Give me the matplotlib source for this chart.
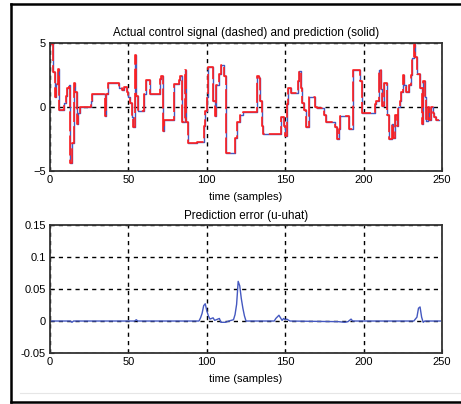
# Actual control signal vs. prediction, and prediction error

import matplotlib.pyplot as plt
from matplotlib.lines import Line2D

# control signal: sample where a new level starts, and the level
step_t = [0, 2, 3, 4, 5, 6, 9, 10, 11, 12, 13, 14, 15, 16, 17, 18, 19, 26, 27,
          35, 36, 37, 44, 46, 47, 49, 50, 51, 52, 53, 54, 55, 56, 60, 61, 64,
          70, 71, 72, 73, 79, 82, 83, 84, 86, 87, 88, 94, 98, 99, 100, 101,
          104, 105, 106, 108, 109, 111, 112, 118, 119, 121, 123, 132, 133,
          134, 135, 136, 147, 149, 150, 151, 152, 154, 158, 159, 160, 161,
          162, 163, 165, 169, 170, 175, 176, 182, 183, 184, 185, 191, 193,
          198, 199, 207, 208, 210, 211, 212, 213, 215, 216, 218, 219, 220,
          221, 222, 223, 224, 225, 226, 227, 229, 230, 231, 232, 233, 234,
          236, 237, 238, 239, 240, 241, 242, 243, 244, 245, 246, 248]
step_u = [4.9, 2.7, 0.8, 1.8, 3.0, -0.2, 0.3, 0.9, 1.5, 1.7, -4.4, -2.8, 1.9,
          1.2, -1.3, -0.5, 0.0, 0.5, 1.0, -0.7, 1.0, 1.9, 1.5, 1.3, 1.6, 1.2,
          0.8, 0.3, -0.8, -1.6, 4.1, 0.9, -0.3, 1.0, 2.1, 1.0, 2.2, 2.4, -1.9,
          -1.0, 1.8, 2.1, 2.4, -1.2, 2.9, -1.2, -2.8, -2.7, -1.5, -0.3, 0.8,
          3.1, 0.5, -0.7, 1.7, 2.6, 3.3, 2.4, -3.6, -2.4, -1.2, -0.6, -0.4,
          2.4, 2.3, 0.5, -1.5, -2.1, -0.8, -1.5, -2.3, 0.2, 1.5, 1.1, 2.0,
          2.8, 1.5, 0.3, -0.2, -1.6, 0.8, 0.0, -0.1, -0.6, -1.2, -1.6, -2.5,
          -1.7, -0.7, -1.7, 2.9, 2.0, -0.5, 0.2, 0.5, 2.9, 1.4, 0.1, 1.9,
          -0.6, -2.5, -1.3, -2.4, -0.6, -1.5, 0.0, 0.5, 1.2, 2.5, 1.7, 1.2,
          1.7, 2.5, 3.8, 5.0, 3.9, 2.6, 1.5, -1.3, 2.0, 0.8, -1.1, 0.0, -1.0,
          0.0, -0.5, -0.8, -1.0, -1.0]

# prediction error u - uhat
err_t = [0, 13, 14, 15, 54, 55, 56, 95, 96, 97, 98, 99, 100, 101, 102, 104,
         105, 108, 109, 112, 114, 117, 118, 119, 120, 121, 122, 123, 124,
         125, 143, 144, 146, 147, 148, 149, 150, 151, 153, 184, 188, 190,
         192, 193, 232, 234, 235, 236, 237, 238, 239, 249]
err_v = [0, 0, -0.002, 0, 0, 0.002, 0, 0, 0.005, 0.012, 0.024, 0.027, 0.016,
         0.008, 0.003, 0.005, 0.001, 0.004, -0.002, -0.002, 0, 0.002, 0.01,
         0.026, 0.062, 0.055, 0.035, 0.02, 0.008, 0, 0, 0.004, 0.009, 0.005,
         0.001, 0.004, 0.002, 0.003, 0, -0.001, -0.002, -0.001, 0.003, 0, 0,
         0.006, 0.02, 0.022, 0.006, -0.002, 0, 0]

red = "#ff2020"
blue = "#4458c0"
fs = 8

plt.rcParams['font.family'] = ['Liberation Sans', 'DejaVu Sans']

fig = plt.figure(figsize=(4.61, 4.04), dpi=100)
ax1 = fig.add_axes([0.1085, 0.5767, 0.8503, 0.3168])
ax2 = fig.add_axes([0.1085, 0.1262, 0.8503, 0.3168])

ax1.plot(step_t, step_u, color=blue, lw=1.0, drawstyle='steps-post')
ax1.plot(step_t, step_u, color=red, lw=1.2, drawstyle='steps-post',
         dashes=(12, 2.5))
ax1.set_xlim(0, 250)
ax1.set_ylim(-5, 5)
ax1.set_yticks([-5, 0, 5])
ax1.set_title("Actual control signal (dashed) and prediction (solid)",
              fontsize=8.4, pad=5)
ax1.set_xlabel("time (samples)", fontsize=fs, labelpad=5)

ax2.plot(err_t, err_v, color=blue, lw=1.0)
ax2.set_xlim(0, 250)
ax2.set_ylim(-0.05, 0.15)
ax2.set_yticks([-0.05, 0, 0.05, 0.1, 0.15])
ax2.set_yticklabels(["-0.05", "0", "0.05", "0.1", "0.15"])
ax2.set_title("Prediction error (u-uhat)", fontsize=8.4, pad=4)
ax2.set_xlabel("time (samples)", fontsize=fs, labelpad=5)

for ax in (ax1, ax2):
    ax.set_xticks([0, 50, 100, 150, 200, 250])
    ax.grid(True, color='black', linestyle=(0, (3, 3)), linewidth=1.0)
    ax.tick_params(direction='in', length=3, labelsize=fs, pad=3)
    for sp in ax.spines.values():
        sp.set_color('#333333')
        sp.set_linewidth(1.3)

# scanned page frame: top, left and bottom edges only (right edge is cut off)
x0, y0, y1 = 11 / 461, 2 / 404, 400 / 404
for xs, ys in (([x0, 1.05], [y1, y1]), ([x0, x0], [y0, y1]),
               ([x0, 1.05], [y0, y0])):
    fig.lines.append(Line2D(xs, ys, transform=fig.transFigure,
                            color='black', lw=1.8))
fig.lines.append(Line2D([20 / 461, 1.05], [11 / 404, 11 / 404],
                        transform=fig.transFigure, color='#e6e6e6', lw=0.8))

fig.savefig("out.png", dpi=100)
